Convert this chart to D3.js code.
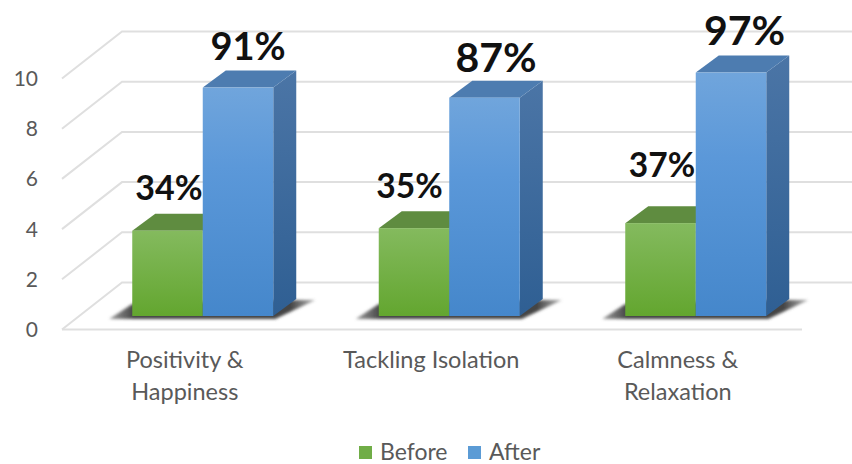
<!DOCTYPE html>
<html>
<head>
<meta charset="utf-8">
<script src="https://cdn.jsdelivr.net/npm/d3@7/dist/d3.min.js"></script>
<style>
html,body{margin:0;padding:0;background:#fff}
svg{display:block}
</style>
</head>
<body>
<svg id="chart" width="852" height="464"></svg>
<script>
// Survey scores before and after, on a 0-10 scale
const categories = [["Positivity &", "Happiness"], ["Tackling Isolation"], ["Calmness &", "Relaxation"]];
const seriesNames = ["Before", "After"];
const before = [3.4, 3.5, 3.7];
const after = [9.1, 8.7, 9.7];
const yTicks = [0, 2, 4, 6, 8, 10];

// Layout of the pseudo-3D box
const W = 852, H = 464;
const floorFrontY = 329.5, wallDx = 60, wallDy = -47, gridLeft = 62, frontRight = 802;
const barBaseY = 316, depthDx = 23, depthDy = -17;

const svg = d3.select("#chart").attr("viewBox", [0, 0, W, H]);
const defs = svg.append("defs");

const addGradient = (id, stops) => {
  const g = defs.append("linearGradient").attr("id", id)
    .attr("x1", 0).attr("y1", 0).attr("x2", 0).attr("y2", 1);
  stops.forEach(([o, c]) => g.append("stop").attr("offset", o).attr("stop-color", c));
};
addGradient("front-0", [[0, "#84ba5e"], [1, "#63a62f"]]);
addGradient("front-1", [[0, "#70a5dc"], [0.35, "#5b98d9"], [1, "#4587cb"]]);
addGradient("side-0", [[0, "#4f7a35"], [1, "#3f6b25"]]);
addGradient("side-1", [[0, "#4b75a6"], [1, "#2f5f93"]]);
defs.append("filter").attr("id", "soft").attr("x", "-20%").attr("y", "-50%")
  .attr("width", "140%").attr("height", "200%")
  .append("feGaussianBlur").attr("stdDeviation", 1.6);
const shadowFade = defs.append("linearGradient").attr("id", "shadow");
shadowFade.append("stop").attr("offset", 0).attr("stop-color", "#777").attr("stop-opacity", 0.75);
shadowFade.append("stop").attr("offset", 0.12).attr("stop-color", "#444");
shadowFade.append("stop").attr("offset", 0.88).attr("stop-color", "#444");
shadowFade.append("stop").attr("offset", 1).attr("stop-color", "#777").attr("stop-opacity", 0.6);

const y = d3.scaleLinear().domain([0, 10]).range([0, -251]);
const x = d3.scaleBand().domain(d3.range(categories.length)).range([79.5, 819]).paddingInner(0).paddingOuter(0);
const xInner = d3.scaleBand().domain([0, 1]).range([-70.5, 70.5]);
const centerOf = i => x(i) + x.bandwidth() / 2;

// Gridlines: slanted on the side wall, level along the back wall
const grid = svg.append("g").attr("fill", "none").attr("stroke", "#dfdfdf").attr("stroke-width", 2);
yTicks.forEach(t => {
  const fy = floorFrontY + y(t);
  grid.append("path").attr("d", d3.line()([
    [gridLeft, fy], [gridLeft + wallDx, fy + wallDy], [W + 10, fy + wallDy]
  ]));
});
grid.append("line").attr("x1", gridLeft).attr("x2", frontRight)
  .attr("y1", floorFrontY).attr("y2", floorFrontY);

// Value axis labels
svg.append("g").selectAll("text").data(yTicks).join("text")
  .attr("x", 38).attr("y", d => floorFrontY + y(d)).attr("dy", "0.36em")
  .attr("text-anchor", "end").attr("fill", "#595959")
  .attr("font-family", "Lato, sans-serif").attr("font-size", 21)
  .text(d => d);

// One floor shadow and a pair of boxes per category
const groups = svg.append("g").selectAll("g").data(categories).join("g")
  .attr("transform", (d, i) => `translate(${centerOf(i)},0)`);

groups.append("path")
  .attr("d", () => {
    const l = xInner(0), r = xInner(1) + xInner.bandwidth();
    return d3.line()([
      [l - 23, barBaseY + 3], [l, barBaseY - 12], [r + depthDx, barBaseY + depthDy + 1],
      [r + depthDx + 19, barBaseY + depthDy + 1], [r + 2, barBaseY + 3]
    ]) + "Z";
  })
  .attr("fill", "url(#shadow)").attr("filter", "url(#soft)");

const values = [before, after];
const topColors = ["#5f8c40", "#4d7cb0"];

groups.each(function (_, i) {
  const g = d3.select(this);
  // The right-hand box goes last so its face covers the neighbour's depth
  [0, 1].forEach(s => {
    const v = values[s][i];
    const x0 = xInner(s), x1 = x0 + xInner.bandwidth();
    const top = barBaseY + y(v);
    g.append("path").attr("fill", `url(#side-${s})`).attr("d", d3.line()([
      [x1, top], [x1 + depthDx, top + depthDy], [x1 + depthDx, barBaseY + depthDy], [x1, barBaseY]
    ]) + "Z");
    g.append("path").attr("fill", topColors[s]).attr("d", d3.line()([
      [x0, top], [x0 + depthDx, top + depthDy], [x1 + depthDx, top + depthDy], [x1, top]
    ]) + "Z");
    g.append("rect").attr("x", x0).attr("y", top)
      .attr("width", x1 - x0).attr("height", barBaseY - top)
      .attr("fill", `url(#front-${s})`);
  });
});

// Percentage labels above the boxes, each nudged clear of its neighbour
const labelShift = [
  [[1.5, -31, 34], [-4.5, -30, 33.5], [1.5, -46, 33.5]],
  [[10, -28, 38], [11.5, -26, 41], [13.5, -28, 41]]
];
groups.each(function (_, i) {
  const g = d3.select(this);
  [0, 1].forEach(s => {
    const v = values[s][i];
    const [dx, dy, size] = labelShift[s][i];
    g.append("text")
      .attr("x", xInner(s) + xInner.bandwidth() / 2 + dx)
      .attr("y", barBaseY + y(v) + dy)
      .attr("text-anchor", "middle").attr("fill", "#111")
      .attr("font-family", "Lato, sans-serif").attr("font-weight", 700)
      .attr("font-size", size)
      .text(`${Math.round(v * 10)}%`);
  });
});

// Category labels
groups.append("text")
  .attr("text-anchor", "middle").attr("fill", "#595959")
  .attr("font-family", "Lato, sans-serif").attr("font-size", 23.5)
  .selectAll("tspan").data(d => d).join("tspan")
  .attr("x", -18).attr("y", (d, i) => 368 + i * 32)
  .text(d => d);

// Legend
const legendX = [359, 468];
const legend = svg.append("g").selectAll("g").data(seriesNames).join("g")
  .attr("transform", (d, i) => `translate(${legendX[i]},446)`);
legend.append("rect").attr("width", 13).attr("height", 13)
  .attr("fill", (d, i) => ["#70ad47", "#5b9bd5"][i]);
legend.append("text").attr("x", 21).attr("y", 14)
  .attr("fill", "#595959").attr("font-family", "Lato, sans-serif").attr("font-size", 23)
  .text(d => d);
</script>
</body>
</html>
